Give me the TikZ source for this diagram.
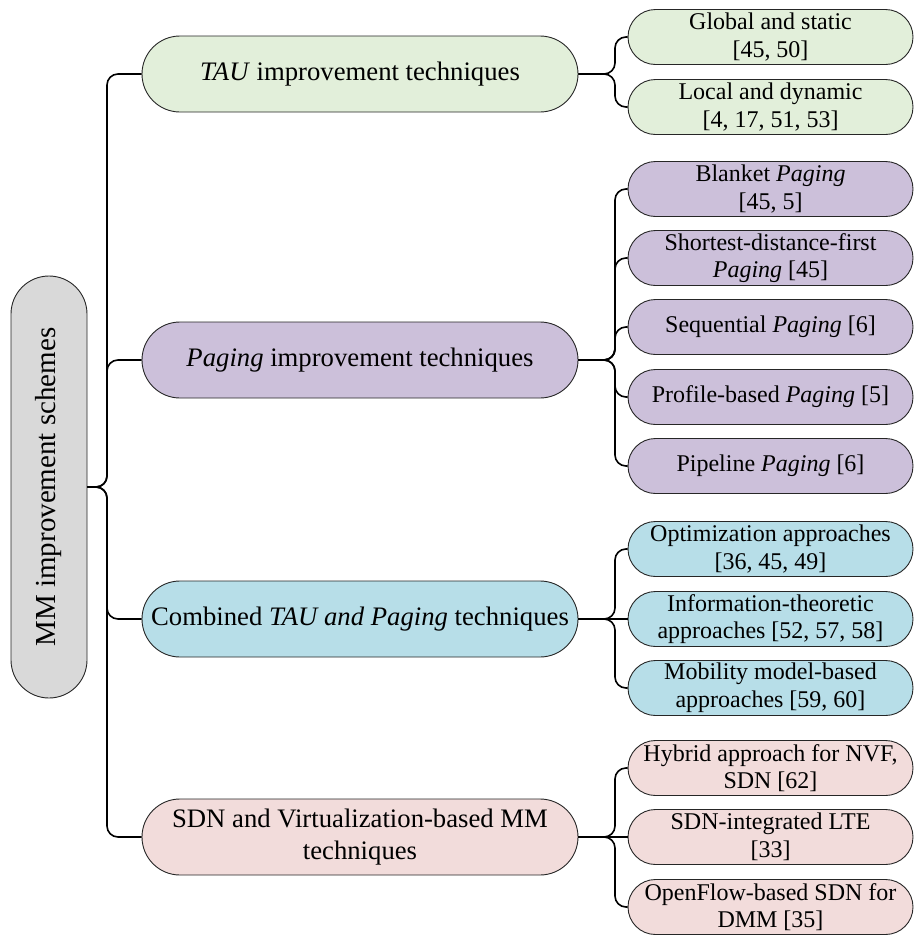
\documentclass[tikz,border=0pt]{standalone}
\usepackage{fontspec}
\setmainfont{Liberation Serif}
\usetikzlibrary{shapes.misc}
\definecolor{rootc}{RGB}{217,217,217}
\definecolor{tauc}{RGB}{226,239,218}
\definecolor{pagc}{RGB}{204,192,218}
\definecolor{comc}{RGB}{183,222,232}
\definecolor{sdnc}{RGB}{242,220,219}
\begin{document}
\begin{tikzpicture}[x=1pt,y=-1pt,
  pill/.style={rounded rectangle, draw=black!85, line width=0.9pt, inner sep=0pt, align=center},
  rootbox/.style={pill, fill=rootc, minimum width=422pt, minimum height=76pt, rotate=90,
    font=\fontsize{29}{34}\selectfont},
  lvone/.style={pill, minimum width=436pt, minimum height=76pt,
    font=\fontsize{26.7}{31.7}\selectfont},
  lvtwo/.style={pill, minimum width=285pt, minimum height=55pt,
    font=\fontsize{24}{27.7}\selectfont},
  conn/.style={draw=black, line width=1.6pt, rounded corners=11pt}]
\useasboundingbox (0,0) rectangle (915,935);

% bus lines
\coordinate (busA) at (107,0);
\coordinate (busB) at (615,0);

% root
\node[rootbox] (root) at (49,487) {MM improvement schemes};

% first level
\node[lvone, fill=tauc] (tau) at (360,74) {\textit{TAU} improvement techniques};
\node[lvone, fill=pagc] (pag) at (360,360) {\textit{Paging} improvement techniques};
\node[lvone, fill=comc] (com) at (360,619) {Combined \textit{TAU and Paging} techniques};
\node[lvone, fill=sdnc] (sdn) at (360,837) {SDN and Virtualization-based MM\\techniques};

% second level: TAU
\node[lvtwo, fill=tauc] (glob) at (770.5,37) {Global and static\\{}[45, 50]};
\node[lvtwo, fill=tauc] (loc) at (770.5,107) {Local and dynamic\\{}[4, 17, 51, 53]};

% second level: Paging
\node[lvtwo, fill=pagc] (blank) at (770.5,189) {Blanket \textit{Paging}\\{}[45, 5]};
\node[lvtwo, fill=pagc] (short) at (770.5,258) {Shortest-distance-first\\\textit{Paging} [45]};
\node[lvtwo, fill=pagc] (seq) at (770.5,327) {Sequential \textit{Paging} [6]};
\node[lvtwo, fill=pagc] (prof) at (770.5,397) {Profile-based \textit{Paging} [5]};
\node[lvtwo, fill=pagc] (pipe) at (770.5,466) {Pipeline \textit{Paging} [6]};

% second level: combined
\node[lvtwo, fill=comc] (opt) at (770.5,549) {Optimization approaches\\{}[36, 45, 49]};
\node[lvtwo, fill=comc] (info) at (770.5,619) {Information-theoretic\\approaches [52, 57, 58]};
\node[lvtwo, fill=comc] (mob) at (770.5,688) {Mobility model-based\\approaches [59, 60]};

% second level: SDN
\node[lvtwo, fill=sdnc] (hyb) at (770.5,768) {Hybrid approach for NVF,\\SDN [62]};
\node[lvtwo, fill=sdnc] (lte) at (770.5,837) {SDN-integrated LTE\\{}[33]};
\node[lvtwo, fill=sdnc] (ofl) at (770.5,907) {OpenFlow-based SDN for\\DMM [35]};

% root connectors
\foreach \c in {tau,pag,com,sdn}
  \draw[conn] (root.south) -- (root.south -| busA) |- (\c.west);

% second level connectors
\foreach \p/\c in {tau/glob,tau/loc,pag/blank,pag/short,pag/seq,pag/prof,pag/pipe,
                   com/opt,com/mob,sdn/hyb,sdn/ofl}
  \draw[conn] (\p.east) -- (\p.east -| busB) |- (\c.west);
\draw[conn] (com.east) -- (info.west);
\draw[conn] (sdn.east) -- (lte.west);
\end{tikzpicture}
\end{document}
